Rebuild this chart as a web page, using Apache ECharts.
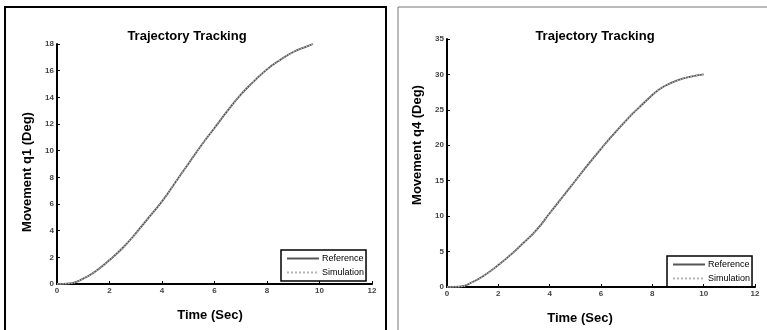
<!DOCTYPE html>
<html>
<head>
<meta charset="utf-8">
<script src="https://cdn.jsdelivr.net/npm/echarts@6/dist/echarts.min.js"></script>
<style>
  html, body { margin: 0; padding: 0; background: #fff; }
  #main { width: 767px; height: 330px; }
</style>
</head>
<body>
<div id="main"></div>
<script>
// values
var timeQ1 = [0, 0.5, 1, 1.5, 2, 2.5, 3, 3.5, 4, 4.5, 5, 5.5, 6, 6.5, 7, 7.5, 8, 8.5, 9, 9.5, 9.75];
var q1Ref = [0, 0.05, 0.4, 1.0, 1.8, 2.7, 3.8, 5.0, 6.2, 7.6, 9.0, 10.4, 11.7, 13.0, 14.2, 15.2, 16.1, 16.8, 17.4, 17.8, 18.0];
var q1Sim = [0, 0.05, 0.4, 1.0, 1.8, 2.7, 3.8, 5.0, 6.2, 7.6, 9.0, 10.4, 11.7, 13.0, 14.2, 15.2, 16.1, 16.8, 17.4, 17.8, 18.0];

var timeQ4 = [0, 0.5, 1, 1.4, 2, 2.5, 3, 3.5, 4, 4.5, 5, 5.5, 6, 6.5, 7, 7.5, 8, 8.2, 8.5, 9, 9.5, 10];
var q4Ref = [0, 0.05, 0.7, 1.5, 3.1, 4.6, 6.3, 8.1, 10.4, 12.7, 15.0, 17.3, 19.5, 21.6, 23.6, 25.4, 27.1, 27.7, 28.4, 29.2, 29.7, 30.0];
var q4Sim = [0, 0.05, 0.7, 1.5, 3.1, 4.6, 6.3, 8.1, 10.4, 12.7, 15.0, 17.3, 19.5, 21.6, 23.6, 25.4, 27.1, 27.7, 28.4, 29.2, 29.7, 30.0];

var seriesNames = ['Reference', 'Simulation'];
var titleText = 'Trajectory Tracking';
var xName = 'Time (Sec)';
var yNames = ['Movement q1 (Deg)', 'Movement q4 (Deg)'];

function pairs(xs, ys) {
  return xs.map(function (x, i) { return [x, ys[i]]; });
}

var font = 'Liberation Sans, Arial, sans-serif';
var tickFont = { fontFamily: font, fontSize: 8, fontWeight: 'bold', color: '#444', margin: 3 };

function xAxisOf(grid, pad) {
  return {
    type: 'value', gridIndex: grid, min: 0, max: 12, interval: 2,
    name: xName, nameLocation: 'middle', nameGap: 25,
    nameTextStyle: { fontFamily: font, fontWeight: 'bold', fontSize: 13, color: '#000', padding: pad },
    axisLine: { onZero: false, lineStyle: { color: '#000', width: 2 } },
    axisTick: { inside: true, length: 3, lineStyle: { color: '#000' } },
    axisLabel: tickFont,
    splitLine: { show: false }
  };
}

function yAxisOf(grid, max, step, label, pad) {
  return {
    type: 'value', gridIndex: grid, min: 0, max: max, interval: step,
    name: label, nameLocation: 'middle', nameGap: 23,
    nameTextStyle: { fontFamily: font, fontWeight: 'bold', fontSize: 13, color: '#000', padding: pad },
    axisLine: { onZero: false, lineStyle: { color: '#000', width: 2 } },
    axisTick: { inside: true, length: 3, lineStyle: { color: '#000' } },
    axisLabel: tickFont,
    splitLine: { show: false }
  };
}

function lineSeries(name, grid, data) {
  var isRef = name === 'Reference';
  return {
    name: name, type: 'line', xAxisIndex: grid, yAxisIndex: grid,
    data: data, smooth: true, symbol: 'none', animation: false,
    z: isRef ? 2 : 3,
    color: isRef ? '#555' : '#b5b5b5',
    lineStyle: isRef ? { color: '#555', width: 1.8 } : { color: '#b5b5b5', width: 1.4, type: 'dotted' }
  };
}

function legendOf(left, top) {
  return {
    data: seriesNames, left: left, top: top, orient: 'vertical',
    borderColor: '#000', borderWidth: 1.5, padding: [4, 2, 4, 5],
    itemGap: 5, itemWidth: 32, itemHeight: 8,
    itemStyle: { opacity: 0 },
    lineStyle: { width: 2 },
    textStyle: { fontFamily: font, fontSize: 9, color: '#000', padding: [0, 0, 0, -2] },
    selectedMode: false
  };
}

var chart = echarts.init(document.getElementById('main'));
chart.setOption({
  backgroundColor: '#fff',
  animation: false,
  graphic: [
    { type: 'rect', shape: { x: 5, y: 7, width: 381, height: 330 }, style: { fill: 'none', stroke: '#000', lineWidth: 2 } },
    { type: 'rect', shape: { x: 398, y: 7, width: 380, height: 330 }, style: { fill: 'none', stroke: '#777', lineWidth: 1 } }
  ],
  title: [
    { text: titleText, left: 182, top: 25, textAlign: 'center',
      textStyle: { fontFamily: font, fontWeight: 'bold', fontSize: 13, color: '#000' } },
    { text: titleText, left: 590, top: 25, textAlign: 'center',
      textStyle: { fontFamily: font, fontWeight: 'bold', fontSize: 13, color: '#000' } }
  ],
  legend: [legendOf(281, 250), legendOf(667, 256)],
  grid: [
    { left: 57, top: 44, width: 315, height: 240 },
    { left: 447, top: 39, width: 308, height: 252 }
  ],
  xAxis: [xAxisOf(0, [0, 9, 0, 0]), xAxisOf(1, [0, 42, 0, 0])],
  yAxis: [
    yAxisOf(0, 18, 2, yNames[0], [0, 16, 0, 0]),
    yAxisOf(1, 35, 5, yNames[1], [0, 0, 0, 36])
  ],
  series: [
    lineSeries('Reference', 0, pairs(timeQ1, q1Ref)),
    lineSeries('Simulation', 0, pairs(timeQ1, q1Sim)),
    lineSeries('Reference', 1, pairs(timeQ4, q4Ref)),
    lineSeries('Simulation', 1, pairs(timeQ4, q4Sim))
  ]
});
</script>
</body>
</html>
